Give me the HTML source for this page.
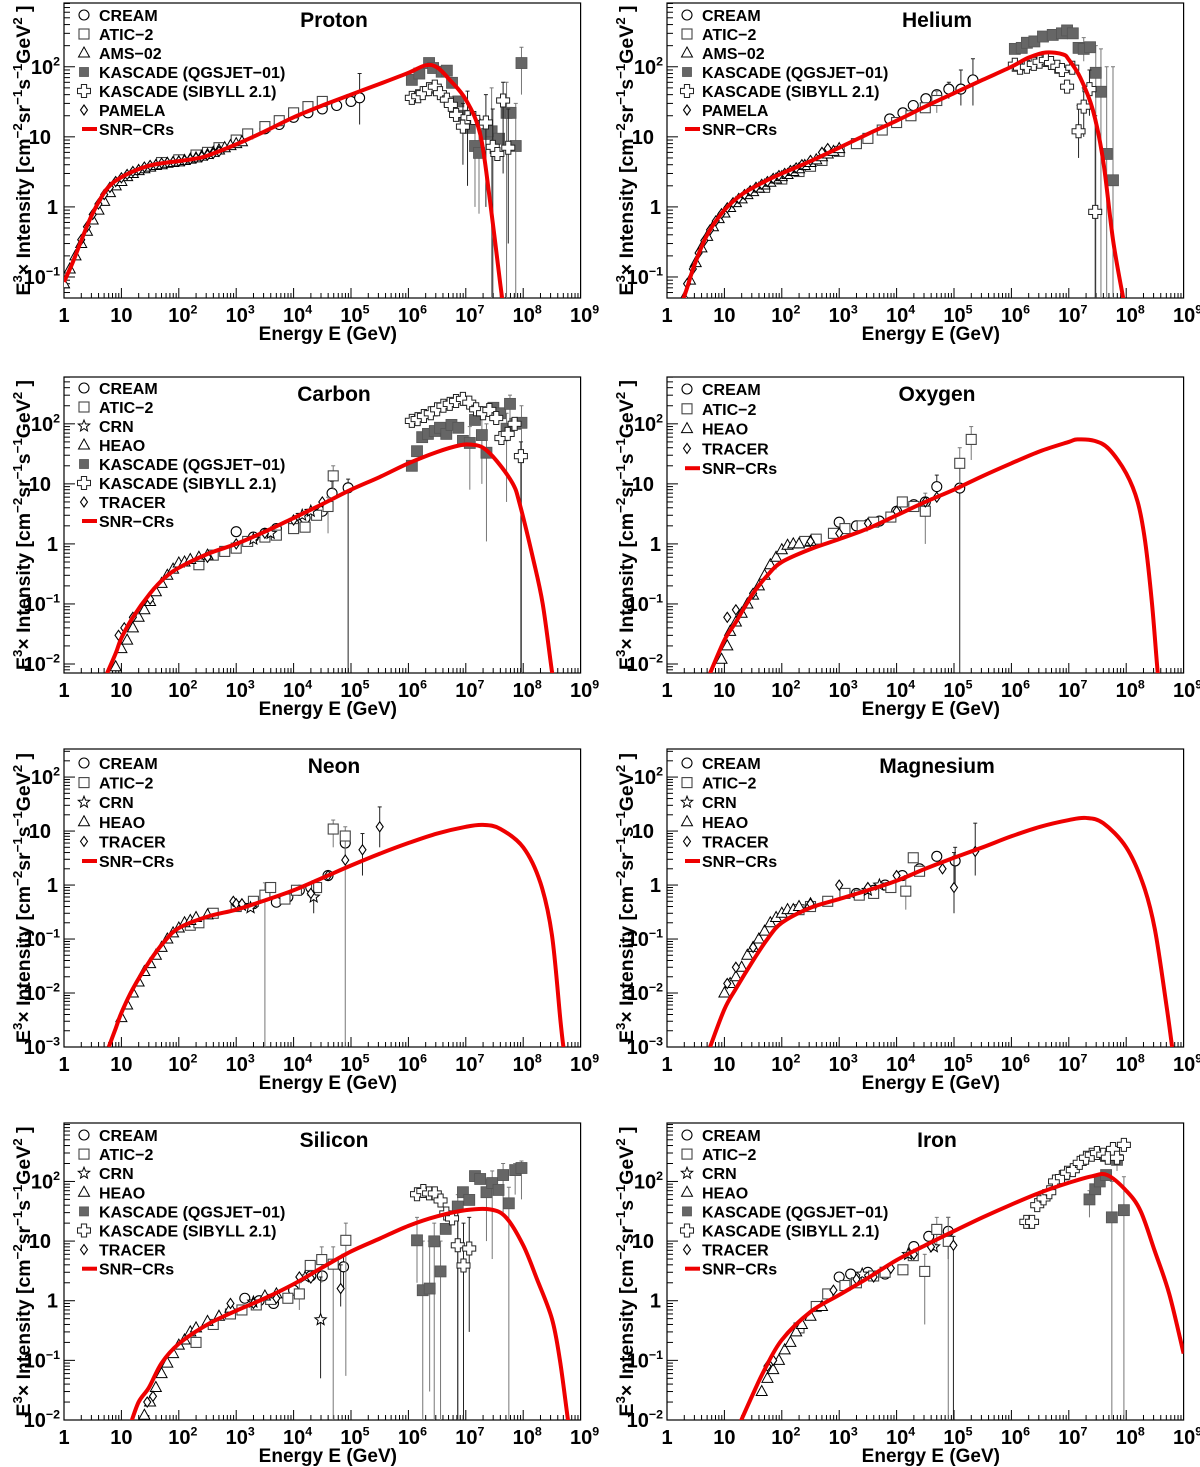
<!DOCTYPE html>
<html><head><meta charset="utf-8"><title>SNR-CRs spectra</title>
<style>html,body{margin:0;padding:0;background:#fff}svg{display:block}</style></head>
<body>
<svg id="chart" xmlns="http://www.w3.org/2000/svg" width="1200" height="1467" viewBox="0 0 1200 1467" font-family="'Liberation Sans', Arial, sans-serif"><defs id="defs"></defs></svg>
<script>
// ---------- DATA (log10 E [GeV], E^3 x Intensity[, errLo, errHi]) ----------
const protonCurve=[[0,0.085],[0.15,0.16],[0.3,0.33],[0.48,0.75],[0.7,1.6],[0.85,2.2],[1.0,2.65],[1.2,3.2],[1.5,3.9],[1.8,4.3],[2.0,4.5],[2.3,4.9],[2.5,5.4],[3.0,7.8],[3.5,12],[4.0,19],[4.5,28],[5.0,40],[5.5,57],[6.0,82],[6.3,105],[6.5,98],[6.72,65],[7.0,34],[7.25,11],[7.42,1.25],[7.6,0.08],[7.7,0.02]];
const protonCREAM=[[3.5,13],[3.75,15],[4.0,19],[4.25,22],[4.5,25],[4.75,28],[5.0,32],[5.15,36,15,80]];
const protonATIC=[[1.7,4.3],[2.0,4.7],[2.3,5.5],[2.5,6],[2.7,7],[3.0,9],[3.2,11],[3.5,14],[3.75,17],[4.0,22],[4.25,27],[4.5,32]];
const protonAMS=[[0,0.08],[0.1,0.13],[0.2,0.2],[0.3,0.3],[0.4,0.45],[0.5,0.65],[0.6,0.9],[0.7,1.2],[0.8,1.6],[0.9,2.0],[1.0,2.3],[1.1,2.7],[1.2,3.0],[1.3,3.3],[1.4,3.5],[1.5,3.7],[1.6,3.9],[1.7,4.0],[1.8,4.2],[1.9,4.3],[2.0,4.4],[2.1,4.6],[2.2,4.8],[2.3,5.0],[2.4,5.3],[2.5,5.6],[2.6,6.0],[2.7,6.5],[2.8,7.0],[2.9,7.5],[3.0,8.0],[3.1,8.5]];
const protonKQ=[[6.06,65],[6.19,80],[6.36,113],[6.43,96],[6.58,85],[6.67,88],[6.76,59],[6.87,32],[6.98,20],[7.07,13.4],[7.16,7.4,1,20],[7.23,5.9,0.8,18],[7.37,11],[7.45,12,0.01,50],[7.58,9.4],[7.71,22,0.01,60],[7.78,22],[7.87,7.4,0.01,30],[7.97,113,40,190]];
const protonKS=[[6.06,36],[6.17,38],[6.25,42],[6.36,48],[6.46,52],[6.55,42],[6.67,34],[6.74,28.6],[6.83,20.6],[6.95,14,4,30],[7.03,19,2,45],[7.13,18.6],[7.35,16,1,40],[7.47,7.2,0.01,25],[7.55,5.7],[7.65,33,3,60],[7.74,7,0.3,25]];
const protonPAMELA=[[0.3,0.34],[0.4,0.52],[0.5,0.78],[0.6,1.1],[0.7,1.5],[0.8,1.9],[0.9,2.3],[1.0,2.6],[1.1,2.9],[1.2,3.2],[1.3,3.4],[1.4,3.7],[1.5,3.9],[1.6,4.0],[1.7,4.2],[1.8,4.3],[1.9,4.4],[2.0,4.5],[2.1,4.6],[2.2,4.8],[2.3,5.0],[2.4,5.2],[2.5,5.5],[2.6,5.8],[2.7,6.2]];

const heliumCurve=[[0.25,0.04],[0.35,0.07],[0.48,0.15],[0.7,0.4],[1.0,0.9],[1.3,1.5],[1.7,2.3],[2.0,3.0],[2.5,4.5],[3.0,7],[3.5,11],[4.0,17],[4.5,27],[5.0,42],[5.5,65],[6.0,100],[6.3,135],[6.6,160],[6.9,150],[7.0,126],[7.2,70],[7.42,24],[7.6,4.5],[7.77,0.34],[7.94,0.054],[8.0,0.03]];
const heliumCREAM=[[3.88,18],[4.11,22],[4.29,28],[4.51,35],[4.70,40],[4.91,48,35,60],[5.12,48,28,90],[5.33,65,28,130]];
const heliumATIC=[[1.7,1.9],[2.0,2.5],[2.3,3.2],[2.5,3.8],[2.7,4.6],[3.0,6.2],[3.3,8],[3.5,9.5],[3.75,12.5],[4.0,16],[4.25,20],[4.5,26],[4.7,33,22,45]];
const heliumAMS=[[0.3,0.05],[0.4,0.09],[0.5,0.16],[0.6,0.26],[0.7,0.38],[0.8,0.52],[0.9,0.68],[1.0,0.82],[1.1,0.98],[1.2,1.15],[1.3,1.3],[1.4,1.5],[1.5,1.65],[1.6,1.85],[1.7,2.05],[1.8,2.25],[1.9,2.5],[2.0,2.7],[2.1,2.9],[2.2,3.2],[2.3,3.5],[2.4,3.9],[2.5,4.3],[2.6,4.7],[2.7,5.2],[2.8,5.7],[2.9,6.2],[3.0,6.8]];
const heliumKQ=[[6.06,180],[6.18,186],[6.27,220],[6.4,230],[6.55,270],[6.72,285],[6.88,300],[6.97,330],[7.07,300],[7.17,186],[7.26,180,120,260],[7.37,190],[7.47,82,0.01,200],[7.56,44,0.01,180],[7.66,5.7,0.01,100],[7.77,2.4,0.01,100]];
const heliumKS=[[6.06,107],[6.15,97],[6.27,100],[6.39,110],[6.49,118],[6.6,125],[6.69,113],[6.8,100],[6.88,90],[6.97,52],[7.06,97],[7.17,12,5,28],[7.26,27,10,50],[7.36,48,20,90],[7.46,0.85,0.01,20]];
const heliumPAMELA=[[0.35,0.08],[0.45,0.13],[0.55,0.22],[0.65,0.33],[0.75,0.47],[0.85,0.63],[0.95,0.8],[1.05,0.97],[1.15,1.15],[1.25,1.32],[1.35,1.5],[1.45,1.7],[1.55,1.9],[1.65,2.1],[1.75,2.3],[1.85,2.55],[1.95,2.8],[2.05,3.0],[2.15,3.3],[2.25,3.6],[2.35,4.0],[2.5,4.6],[2.7,6.0],[2.8,6.8]];

const carbonCurve=[[0.75,0.007],[0.9,0.015],[1.0,0.027],[1.2,0.06],[1.5,0.15],[1.75,0.27],[2.0,0.4],[2.5,0.68],[3.0,1.0],[3.5,1.6],[4.0,2.7],[4.5,4.6],[5.0,8],[5.5,13],[6.0,22],[6.5,34],[6.9,44],[7.1,45],[7.3,40],[7.54,24],[7.82,10],[7.94,4.6],[8.17,0.58],[8.34,0.1],[8.5,0.0076],[8.55,0.004]];
const carbonCREAM=[[3.0,1.6],[3.3,1.3],[3.5,1.5],[3.7,1.8],[4.0,2.2],[4.2,2.7],[4.5,3.5],[4.67,7,4,11],[4.95,8.6,0.001,12]];
const carbonATIC=[[2.35,0.45],[2.6,0.65],[2.8,0.75],[3.0,0.85],[3.2,1.1],[3.5,1.3],[3.7,1.4],[4.0,1.8],[4.2,1.9],[4.4,3],[4.6,4.2,1.5,6],[4.69,13.6,8,20]];
const carbonCRN=[[3.3,1.2],[3.6,1.5],[4.15,3],[4.3,3.5]];
const carbonHEAO=[[0.9,0.009],[1.0,0.018],[1.1,0.025],[1.2,0.04],[1.3,0.06],[1.4,0.08],[1.5,0.11],[1.6,0.16],[1.7,0.22],[1.8,0.3],[1.9,0.38],[2.0,0.48],[2.1,0.5],[2.2,0.55],[2.35,0.6],[2.5,0.65]];
const carbonKQ=[[6.06,20],[6.15,35],[6.24,60],[6.34,68],[6.46,76],[6.55,86],[6.66,68],[6.75,96],[6.87,86],[6.95,52],[7.07,48,8,90],[7.16,116],[7.28,65,10,120],[7.36,33,1.1,100],[7.48,185],[7.6,150],[7.71,83,5,150],[7.77,215,120,300],[7.86,100],[7.97,104,0.001,200]];
const carbonKS=[[6.06,112],[6.16,120],[6.27,135],[6.39,150],[6.5,175],[6.61,200],[6.72,215],[6.83,240],[6.95,260],[7.06,225],[7.18,175],[7.3,150],[7.41,170],[7.53,125],[7.62,58],[7.73,68],[7.85,100],[7.96,29,0.001,50]];
const carbonTRACER=[[0.95,0.03],[1.05,0.04],[1.2,0.06],[1.5,0.12],[2.5,0.6],[3.0,1.0],[3.5,1.5],[4.0,2.5],[4.5,5]];

const oxygenCurve=[[0.75,0.007],[1.0,0.025],[1.2,0.05],[1.5,0.15],[1.75,0.3],[2.0,0.5],[2.5,0.82],[3.0,1.2],[3.5,1.8],[4.0,3],[4.5,5],[5.0,8],[5.5,13.5],[6.0,22],[6.5,35],[7.0,50],[7.15,55],[7.45,52],[7.7,38],[8.0,15],[8.2,5],[8.33,1.1],[8.45,0.1],[8.55,0.007],[8.6,0.003]];
const oxygenCREAM=[[3.0,2.3],[3.3,2.0],[3.5,2.1],[3.7,2.4],[4.0,3.5],[4.3,4.5],[4.5,5],[4.7,9,5,14],[5.1,8.5,0.001,20]];
const oxygenATIC=[[2.4,1.1],[2.6,1.2],[2.9,1.5],[3.1,1.8],[3.4,2.0],[3.6,2.3],[3.9,2.8],[4.1,5],[4.3,4.2],[4.5,3.5,1,7],[5.1,22,8,40],[5.3,55,25,90]];
const oxygenHEAO=[[0.95,0.012],[1.05,0.02],[1.1,0.035],[1.2,0.05],[1.3,0.07],[1.4,0.1],[1.5,0.14],[1.6,0.2],[1.7,0.3],[1.8,0.45],[1.9,0.6],[2.0,0.8],[2.1,0.95],[2.2,1.0],[2.3,1.0],[2.5,1.1]];
const oxygenTRACER=[[1.05,0.06],[1.2,0.08],[1.5,0.15],[2.5,1.1],[3.0,1.5],[3.5,2.2],[4.0,3.5],[4.5,5],[4.7,6]];

const neonCurve=[[0.78,0.001],[0.9,0.0022],[1.0,0.0043],[1.2,0.012],[1.5,0.04],[1.75,0.09],[2.0,0.16],[2.5,0.26],[3.0,0.35],[3.5,0.52],[4.0,0.8],[4.5,1.35],[5.0,2.3],[5.5,3.8],[6.0,6],[6.5,9],[7.0,12],[7.3,13],[7.6,11],[8.0,5],[8.3,1.1],[8.5,0.12],[8.65,0.003],[8.7,0.001]];
const neonCREAM=[[3.3,0.45],[3.7,0.48],[3.9,0.6],[4.1,0.8],[4.3,0.9],[4.6,1.5],[4.9,6,3,9]];
const neonATIC=[[2.2,0.18],[2.35,0.2],[2.6,0.3],[3.0,0.4],[3.3,0.5],[3.5,0.65,0.0001,1.1],[3.6,0.9],[3.85,0.55],[4.05,0.8],[4.4,0.9],[4.69,10.9,5,16],[4.9,8.1,0.0001,12]];
const neonCRN=[[3.1,0.42],[3.25,0.38],[4.35,0.6,0.3,1.2]];
const neonHEAO=[[1.0,0.0035],[1.1,0.006],[1.2,0.01],[1.3,0.016],[1.4,0.025],[1.5,0.035],[1.6,0.05],[1.7,0.07],[1.8,0.1],[1.9,0.13],[2.0,0.16],[2.1,0.2],[2.2,0.22],[2.3,0.25],[2.5,0.28]];
const neonTRACER=[[2.95,0.5],[3.0,0.45],[3.1,0.45],[4.3,0.7],[4.6,1.5],[4.9,2.9],[5.2,4.5,1.5,9],[5.5,12,5,28]];

const magnesiumCurve=[[0.75,0.001],[1.0,0.005],[1.2,0.012],[1.5,0.04],[1.75,0.1],[2.0,0.2],[2.5,0.38],[3.0,0.55],[3.5,0.8],[4.0,1.2],[4.5,2],[5.0,3.2],[5.5,5],[6.0,8],[6.5,12],[7.0,16],[7.3,17.5],[7.6,14],[8.0,5],[8.3,1],[8.5,0.15],[8.7,0.006],[8.8,0.001]];
const magnesiumCREAM=[[3.3,0.7],[3.6,0.8],[3.8,1.0],[4.1,1.5],[4.4,2.0],[4.7,3.4],[5.02,2.8,1,5]];
const magnesiumATIC=[[2.3,0.35],[2.5,0.4],[2.8,0.5],[3.1,0.7],[3.35,0.65],[3.6,0.7],[3.9,0.9],[4.16,0.77,0.35,1.5],[4.29,3.2],[4.4,1.8]];
const magnesiumCRN=[[3.5,0.8],[3.7,1.0]];
const magnesiumHEAO=[[1.0,0.01],[1.1,0.015],[1.2,0.02],[1.3,0.03],[1.4,0.05],[1.5,0.07],[1.6,0.1],[1.7,0.14],[1.8,0.2],[1.9,0.25],[2.0,0.3],[2.1,0.35],[2.2,0.35],[2.3,0.4],[2.5,0.45]];
const magnesiumTRACER=[[1.05,0.015],[1.2,0.03],[1.5,0.07],[2.5,0.45],[3.0,1.0],[3.5,0.9],[4.0,1.5],[4.8,2],[5.0,0.9,0.3,4],[5.37,4.2,1.5,14]];

const siliconCurve=[[1.15,0.008],[1.3,0.02],[1.48,0.035],[1.7,0.09],[2.0,0.19],[2.5,0.4],[3.0,0.68],[3.5,1.1],[4.0,1.9],[4.5,3.6],[5.0,6.7],[5.5,11],[6.0,18],[6.5,26],[7.0,33],[7.42,34],[7.7,25],[8.0,8.5],[8.24,2.3],[8.5,0.5],[8.64,0.1],[8.78,0.01],[8.82,0.006]];
const siliconCREAM=[[3.15,1.1],[3.4,1.0],[3.65,0.9],[4.0,1.5],[4.3,2.6],[4.5,2.6],[4.87,3.7,1.5,6]];
const siliconATIC=[[2.3,0.2],[2.6,0.4],[2.9,0.6],[3.1,0.7],[3.35,0.85],[3.6,1.05],[3.9,1.1],[4.1,1.3,0.7,2],[4.29,3.9],[4.49,4.9,2,8],[4.69,4.1,0.001,8],[4.91,10.3,0.055,20]];
const siliconCRN=[[3.3,0.95],[4.2,2.5],[4.47,0.48,0.05,2.5]];
const siliconHEAO=[[1.4,0.012],[1.5,0.02],[1.6,0.035],[1.7,0.06],[1.8,0.09],[1.9,0.13],[2.0,0.18],[2.1,0.22],[2.2,0.3],[2.3,0.35],[2.5,0.45],[2.7,0.55],[2.9,0.75],[3.5,1.2],[3.7,1.3]];
const siliconKQ=[[6.15,10.3,2,25],[6.25,1.5,0.001,10],[6.37,1.6,0.03,10],[6.45,9.9,0.001,20],[6.56,3.1,0.001,10],[6.65,16],[6.86,38,0.001,60],[6.95,66],[7.06,49],[7.16,123],[7.25,110],[7.36,66,10,110],[7.46,94,5,150],[7.57,72],[7.65,128,30,200],[7.75,43,0.001,80],[7.86,155,60,200],[7.97,168,50,220]];
const siliconKS=[[6.15,61],[6.26,69],[6.36,63],[6.46,63],[6.56,48],[6.66,29],[6.76,24],[6.86,8.5,0.001,30],[6.96,3.9,0.001,20],[7.06,7.5,0.3,25]];
const siliconTRACER=[[1.45,0.02],[1.55,0.025],[2.9,0.9],[3.3,0.9],[3.7,1.1],[4.1,2.5],[4.3,2.4],[4.82,1.6,0.8,4]];

const ironCurve=[[1.25,0.008],[1.48,0.025],[1.7,0.07],[2.0,0.22],[2.5,0.65],[3.0,1.25],[3.5,2.4],[4.0,4.8],[4.5,8.5],[5.0,14.7],[5.5,25],[6.0,41],[6.5,65],[7.0,95],[7.4,122],[7.67,128],[8.0,70],[8.25,32],[8.5,6.7],[8.75,1.3],[9.0,0.13]];
const ironCREAM=[[3.0,2.5],[3.2,2.8],[3.5,3.0],[3.8,2.8],[4.3,8.1],[4.56,12],[4.9,14.6,5,25]];
const ironATIC=[[2.3,0.35],[2.6,0.8],[2.8,1.3],[3.1,1.8],[3.3,2.0],[3.6,2.6],[3.8,3.0],[4.11,3.3],[4.29,5.7],[4.49,3.1,0.4,6],[4.7,15.7,7,25],[4.9,9.9,0.001,25]];
const ironCRN=[[3.4,2.8],[4.2,6],[4.65,8]];
const ironHEAO=[[1.65,0.03],[1.75,0.05],[1.85,0.07],[1.95,0.1],[2.05,0.15],[2.15,0.2],[2.25,0.3],[2.35,0.4],[2.5,0.55],[2.7,0.8]];
const ironKQ=[[7.36,50,25,70],[7.46,74],[7.54,100],[7.65,128],[7.75,25,0.001,100],[7.84,230,150,300],[7.96,33,0.001,120]];
const ironKS=[[6.26,21],[6.36,21],[6.45,40],[6.56,52],[6.66,66],[6.76,100],[6.88,118],[6.97,140],[7.07,155],[7.19,205],[7.3,250],[7.4,280],[7.49,300],[7.6,280],[7.68,250],[7.77,350],[7.84,250],[7.96,410]];
const ironTRACER=[[1.75,0.08],[1.85,0.1],[2.9,1.5],[3.3,2.3],[3.6,2.5],[3.9,3.5],[4.3,6],[4.6,8],[4.99,8.5,0.001,12]];

const xTickExponents=[0,1,2,3,4,5,6,7,8,9];

// ---------- LAYOUT ----------
const DEC=57.4;
const panels=[
 {name:'proton',title:'Proton',x0:64,top:3,bottom:298,ymin:-1.3,ymax:2.91,legY:21,legStep:19,curve:protonCurve,
  series:[['CREAM','circle',protonCREAM],['ATIC-2','square',protonATIC],['AMS-02','triangle',protonAMS],['KASCADE (QGSJET-01)','kq',protonKQ],['KASCADE (SIBYLL 2.1)','ks',protonKS],['PAMELA','diamond',protonPAMELA]]},
 {name:'helium',title:'Helium',x0:667,top:3,bottom:298,ymin:-1.3,ymax:2.91,legY:21,legStep:19,curve:heliumCurve,
  series:[['CREAM','circle',heliumCREAM],['ATIC-2','square',heliumATIC],['AMS-02','triangle',heliumAMS],['KASCADE (QGSJET-01)','kq',heliumKQ],['KASCADE (SIBYLL 2.1)','ks',heliumKS],['PAMELA','diamond',heliumPAMELA]]},
 {name:'carbon',title:'Carbon',x0:64,top:377,bottom:673,ymin:-2.15,ymax:2.78,legY:394,legStep:19,curve:carbonCurve,
  series:[['CREAM','circle',carbonCREAM],['ATIC-2','square',carbonATIC],['CRN','star',carbonCRN],['HEAO','triangle',carbonHEAO],['KASCADE (QGSJET-01)','kq',carbonKQ],['KASCADE (SIBYLL 2.1)','ks',carbonKS],['TRACER','diamond',carbonTRACER]]},
 {name:'oxygen',title:'Oxygen',x0:667,top:377,bottom:673,ymin:-2.15,ymax:2.78,legY:395,legStep:19.8,curve:oxygenCurve,
  series:[['CREAM','circle',oxygenCREAM],['ATIC-2','square',oxygenATIC],['HEAO','triangle',oxygenHEAO],['TRACER','diamond',oxygenTRACER]]},
 {name:'neon',title:'Neon',x0:64,top:749,bottom:1047,ymin:-3,ymax:2.52,legY:769,legStep:19.6,curve:neonCurve,
  series:[['CREAM','circle',neonCREAM],['ATIC-2','square',neonATIC],['CRN','star',neonCRN],['HEAO','triangle',neonHEAO],['TRACER','diamond',neonTRACER]]},
 {name:'magnesium',title:'Magnesium',x0:667,top:749,bottom:1047,ymin:-3,ymax:2.52,legY:769,legStep:19.6,curve:magnesiumCurve,
  series:[['CREAM','circle',magnesiumCREAM],['ATIC-2','square',magnesiumATIC],['CRN','star',magnesiumCRN],['HEAO','triangle',magnesiumHEAO],['TRACER','diamond',magnesiumTRACER]]},
 {name:'silicon',title:'Silicon',x0:64,top:1123,bottom:1420,ymin:-2,ymax:2.98,legY:1141,legStep:19.1,curve:siliconCurve,
  series:[['CREAM','circle',siliconCREAM],['ATIC-2','square',siliconATIC],['CRN','star',siliconCRN],['HEAO','triangle',siliconHEAO],['KASCADE (QGSJET-01)','kq',siliconKQ],['KASCADE (SIBYLL 2.1)','ks',siliconKS],['TRACER','diamond',siliconTRACER]]},
 {name:'iron',title:'Iron',x0:667,top:1123,bottom:1420,ymin:-2,ymax:2.98,legY:1141,legStep:19.1,curve:ironCurve,
  series:[['CREAM','circle',ironCREAM],['ATIC-2','square',ironATIC],['CRN','star',ironCRN],['HEAO','triangle',ironHEAO],['KASCADE (QGSJET-01)','kq',ironKQ],['KASCADE (SIBYLL 2.1)','ks',ironKS],['TRACER','diamond',ironTRACER]]}
];

const NS='http://www.w3.org/2000/svg';
const svg=document.getElementById('chart');
const defs=document.getElementById('defs');
function mk(tag,attrs,parent){const e=document.createElementNS(NS,tag);for(const k in attrs)e.setAttribute(k,attrs[k]);parent.appendChild(e);return e;}

function marker(g,type,x,y){
  let e;
  if(type==='circle'){e=mk('circle',{cx:x,cy:y,r:5,fill:'#fff',stroke:'#000','stroke-width':1.1},g);}
  else if(type==='square'){e=mk('rect',{x:x-5,y:y-5,width:10,height:10,fill:'#fff',stroke:'#444','stroke-width':1.1},g);}
  else if(type==='triangle'){e=mk('polygon',{points:`${x},${y-6} ${x+5.5},${y+4} ${x-5.5},${y+4}`,fill:'#fff',stroke:'#000','stroke-width':1},g);}
  else if(type==='diamond'){e=mk('polygon',{points:`${x},${y-5} ${x+3.5},${y} ${x},${y+5} ${x-3.5},${y}`,fill:'#fff',stroke:'#000','stroke-width':1.1},g);}
  else if(type==='kq'){e=mk('rect',{x:x-5.5,y:y-5.5,width:11,height:11,fill:'#666',stroke:'#555','stroke-width':0.8},g);}
  else if(type==='ks'){const a=2.6,b=6.5;e=mk('polygon',{points:`${x-a},${y-b} ${x+a},${y-b} ${x+a},${y-a} ${x+b},${y-a} ${x+b},${y+a} ${x+a},${y+a} ${x+a},${y+b} ${x-a},${y+b} ${x-a},${y+a} ${x-b},${y+a} ${x-b},${y-a} ${x-a},${y-a}`,fill:'#fff',stroke:'#222','stroke-width':1},g);}
  else if(type==='star'){let pts=[];for(let i=0;i<10;i++){const r=i%2?2.6:6,an=-Math.PI/2+i*Math.PI/5;pts.push((x+r*Math.cos(an)).toFixed(1)+','+(y+r*Math.sin(an)).toFixed(1));}e=mk('polygon',{points:pts.join(' '),fill:'#fff',stroke:'#000','stroke-width':1},g);}
  return e;
}

function supText(parent,x,y,base,exp,size,anchor){
  const t=mk('text',{x:x,y:y,'font-size':size,'font-weight':'bold','text-anchor':anchor,fill:'#000'},parent);
  t.appendChild(document.createTextNode(base));
  if(exp!==null){const s=mk('tspan',{dy:-size*0.42,'font-size':size*0.62},t);s.textContent=exp;}
  return t;
}
function expLabel(n){return n===0?['1',null]:n===1?['10',null]:['10',String(n).replace('-','\u2212')];}

panels.forEach(p=>{
  const H=p.bottom-p.top, W=9*DEC;
  const X=le=>p.x0+le*DEC;
  const Y=v=>p.bottom-(Math.log10(v)-p.ymin)*H/(p.ymax-p.ymin);
  const g=mk('g',{},svg);
  
  
  const cp=mk('clipPath',{id:'clip-'+p.name},defs);
  mk('rect',{x:p.x0,y:p.top,width:W,height:H},cp);

  const fr=mk('rect',{x:p.x0,y:p.top,width:W,height:H,fill:'none',stroke:'#000','stroke-width':1.2},g);
  
  

  const xt=mk('g',{stroke:'#000','stroke-width':1},g);
  
  
  for(let d=0;d<9;d++)for(let m=1;m<=9;m++){const x=X(d+Math.log10(m));const L=m===1?10:5;mk('line',{x1:x,x2:x,y1:p.bottom,y2:p.bottom-L},xt);}
  const yt=mk('g',{stroke:'#000','stroke-width':1},g);
  
  
  for(let d=Math.floor(p.ymin);d<=Math.ceil(p.ymax);d++)for(let m=1;m<=9;m++){const lv=d+Math.log10(m);if(lv<p.ymin-1e-6||lv>p.ymax)continue;const y=Y(Math.pow(10,lv));const L=m===1?11:6;mk('line',{x1:p.x0,x2:p.x0+L,y1:y,y2:y},yt);}

  const xl=mk('g',{},g);
  
  
  xTickExponents.forEach(n=>{const [b,e]=expLabel(n);supText(xl,X(n)+(e?4:0),p.bottom+24,b,e,20,'middle');});
  const yl=mk('g',{},g);
  
  
  for(let n=Math.ceil(p.ymin-1e-6);n<=Math.floor(p.ymax);n++){const [b,e]=expLabel(n);const off=e?4:(n===0?6:13);supText(yl,p.x0-off,Y(Math.pow(10,n))+7,b,e,20,'end');}

  const xtitle=mk('text',{x:p.x0+333,y:p.bottom+42,'font-size':19,'font-weight':'bold','text-anchor':'end'},g);
  xtitle.textContent='Energy E (GeV)';
  
  
  const cy=(p.top+p.bottom)/2, cx=p.x0-34;
  const ytitle=mk('text',{x:cx,y:cy,'font-size':19,'font-weight':'bold','text-anchor':'middle',transform:`rotate(-90 ${cx} ${cy})`,textLength:290,lengthAdjust:'spacingAndGlyphs'},g);
  
  
  const parts=[['E',0],['3',1],['\u00d7 Intensity [cm',0],['\u22122',1],['sr',0],['\u22121',1],['s',0],['\u22121',1],['GeV',0],['2',1],[' ]',0]];
  let sup=false;
  parts.forEach(([s,isSup])=>{const a={};if(isSup&&!sup){a.dy=-8;sup=true;}else if(!isSup&&sup){a.dy=8;sup=false;}const ts=mk('tspan',a,ytitle);if(isSup)ts.setAttribute('font-size',13);ts.textContent=s;});

  const tt=mk('text',{x:p.x0+270,y:p.top+24,'font-size':21,'font-weight':'bold','text-anchor':'middle'},g);
  tt.textContent=p.title;
  
  

  const dg=mk('g',{'clip-path':`url(#clip-${p.name})`},g);
  
  
  p.series.forEach(([label,type,arr])=>{
    const sg=mk('g',{},dg);
    
    
    arr.forEach(pt=>{
      const x=X(pt[0]);
      if(pt.length>=4){
        const col=(type==='kq'||type==='square')?'#777':'#222';
        const y1=Y(pt[2]),y2=Y(pt[3]);
        mk('line',{x1:x,x2:x,y1:y1,y2:y2,stroke:col,'stroke-width':1},sg);
        mk('line',{x1:x-2,x2:x+2,y1:y2,y2:y2,stroke:col,'stroke-width':1},sg);
      }
    });
    arr.forEach(pt=>{
      const m=marker(sg,type,X(pt[0]),Y(pt[1]));
      
      
    });
  });
  const pts=p.curve.map(c=>[X(c[0]),Y(c[1])]);
  let d=`M${pts[0][0].toFixed(2)},${pts[0][1].toFixed(2)}`;
  for(let i=0;i<pts.length-1;i++){
    const p0=pts[Math.max(0,i-1)],p1=pts[i],p2=pts[i+1],p3=pts[Math.min(pts.length-1,i+2)];
    const c1=[p1[0]+(p2[0]-p0[0])/6,p1[1]+(p2[1]-p0[1])/6],c2=[p2[0]-(p3[0]-p1[0])/6,p2[1]-(p3[1]-p1[1])/6];
    d+=`C${c1[0].toFixed(2)},${c1[1].toFixed(2)} ${c2[0].toFixed(2)},${c2[1].toFixed(2)} ${p2[0].toFixed(2)},${p2[1].toFixed(2)}`;
  }
  const cv=mk('path',{d:d,fill:'none',stroke:'#ee0000','stroke-width':4,'stroke-linejoin':'round'},dg);
  
  

  const lg=mk('g',{},g);
  
  
  const entries=p.series.map(s=>[s[0],s[1]]).concat([['SNR-CRs','line']]);
  entries.forEach(([label,type],i)=>{
    const y=p.legY+i*p.legStep;
    const eg=mk('g',{},lg);
    
    
    if(type==='line'){mk('line',{x1:p.x0+18,x2:p.x0+33,y1:y-6,y2:y-6,stroke:'#ee0000','stroke-width':4},eg);}
    else{const m=marker(eg,type,p.x0+20,y-6);if(type==='kq'){m.setAttribute('width',9);m.setAttribute('height',9);m.setAttribute('x',p.x0+15.5);m.setAttribute('y',y-10.5);}}
    const t=mk('text',{x:p.x0+35,y:y,'font-size':16,'font-weight':'bold'},eg);
    t.textContent=label.replace('-','\u2212');
  });
});
</script>
</body></html>
